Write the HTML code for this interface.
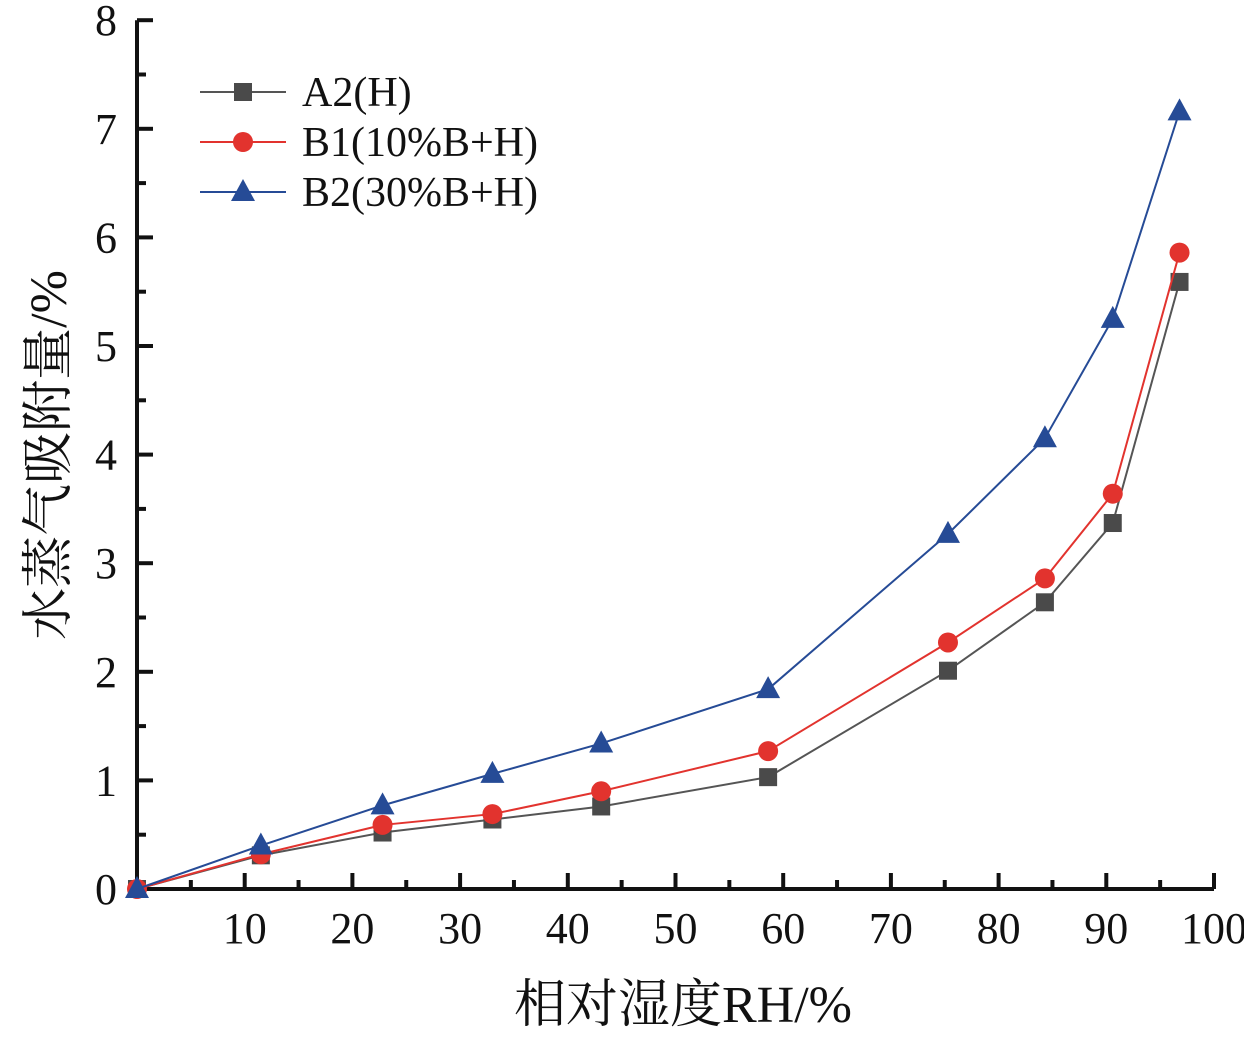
<!DOCTYPE html>
<html><head><meta charset="utf-8"><style>
body{margin:0;background:#fff;}
text{font-family:"Liberation Serif","Noto Serif CJK SC",serif;fill:#111;}
</style></head><body>
<svg id="chart" width="1244" height="1041"></svg>
<script>
const xValues=[0,11.5,22.8,33,43.1,58.6,75.3,84.3,90.6,96.8];
const seriesA2=[0,0.31,0.52,0.64,0.76,1.03,2.01,2.64,3.37,5.59];
const seriesB1=[0,0.32,0.59,0.69,0.90,1.27,2.27,2.86,3.64,5.86];
const seriesB2=[0,0.40,0.77,1.06,1.34,1.84,3.27,4.15,5.25,7.16];
const xTicks=[10,20,30,40,50,60,70,80,90,100];
const yTicks=[0,1,2,3,4,5,6,7,8];
const seriesNames=["A2(H)","B1(10%B+H)","B2(30%B+H)"];
const NS="http://www.w3.org/2000/svg";
const svg=document.getElementById('chart');
const x0=137,y0=889,xs=10.77,ys=108.6;
const X=v=>x0+v*xs, Y=v=>y0-v*ys;
function el(t,a,p){const e=document.createElementNS(NS,t);for(const k in a)e.setAttribute(k,a[k]);(p||svg).appendChild(e);return e;}
const ax=el('path',{d:`M${x0} ${Y(8)}V${y0}H${X(100)}`,stroke:'#111','stroke-width':4,fill:'none'});


xTicks.forEach(t=>{
 const l=el('line',{x1:X(t),x2:X(t),y1:y0,y2:y0-16,stroke:'#111','stroke-width':4});
 
 
 const m=el('line',{x1:X(t-5),x2:X(t-5),y1:y0,y2:y0-9,stroke:'#111','stroke-width':4});
 
 
 const tx=el('text',{x:X(t),y:943,'font-size':44,'text-anchor':'middle'});tx.textContent=t;
 
 
});
yTicks.forEach(t=>{
 const l=el('line',{x1:x0,x2:x0+16,y1:Y(t),y2:Y(t),stroke:'#111','stroke-width':4});
 
 
 if(t<8){const m=el('line',{x1:x0,x2:x0+9,y1:Y(t+0.5),y2:Y(t+0.5),stroke:'#111','stroke-width':4});
 
 }
 const tx=el('text',{x:106,y:Y(t)+15,'font-size':44,'text-anchor':'middle'});tx.textContent=t;
 
 
});
const xt=el('text',{x:683,y:1022,'font-size':52,'text-anchor':'middle'});xt.textContent='相对湿度RH/%';


const yt=el('text',{x:0,y:0,'font-size':52,'text-anchor':'middle',transform:'translate(66,455) rotate(-90)'});yt.textContent='水蒸气吸附量/%';


function marker(type,cx,cy,color,g){
 if(type==0)return el('rect',{x:cx-9,y:cy-9,width:18,height:18,fill:color},g);
 if(type==1)return el('circle',{cx:cx,cy:cy,r:10,fill:color},g);
 return el('polygon',{points:`${cx},${cy-13} ${cx-12},${cy+9} ${cx+12},${cy+9}`,fill:color},g);
}
const colors=['#4a4a4a','#e2332e','#264b96'];
const lineColors=['#555','#e2332e','#264b96'];
[seriesA2,seriesB1,seriesB2].forEach((s,i)=>{
 const g=el('g',{});
 
 
 el('polyline',{points:s.map((v,j)=>X(xValues[j])+','+Y(v)).join(' '),fill:'none',stroke:lineColors[i],'stroke-width':2},g);
 s.forEach((v,j)=>{const m=marker(i,X(xValues[j]),Y(v),colors[i],g);
 
 });
 const lg=el('g',{});
 
 
 const ly=92+i*50;
 el('line',{x1:200,x2:286,y1:ly,y2:ly,stroke:lineColors[i],'stroke-width':2},lg);
 marker(i,243,ly,colors[i],lg);
 const t=el('text',{x:302,y:ly+14,'font-size':42},lg);t.textContent=seriesNames[i];
});
</script>
</body></html>
